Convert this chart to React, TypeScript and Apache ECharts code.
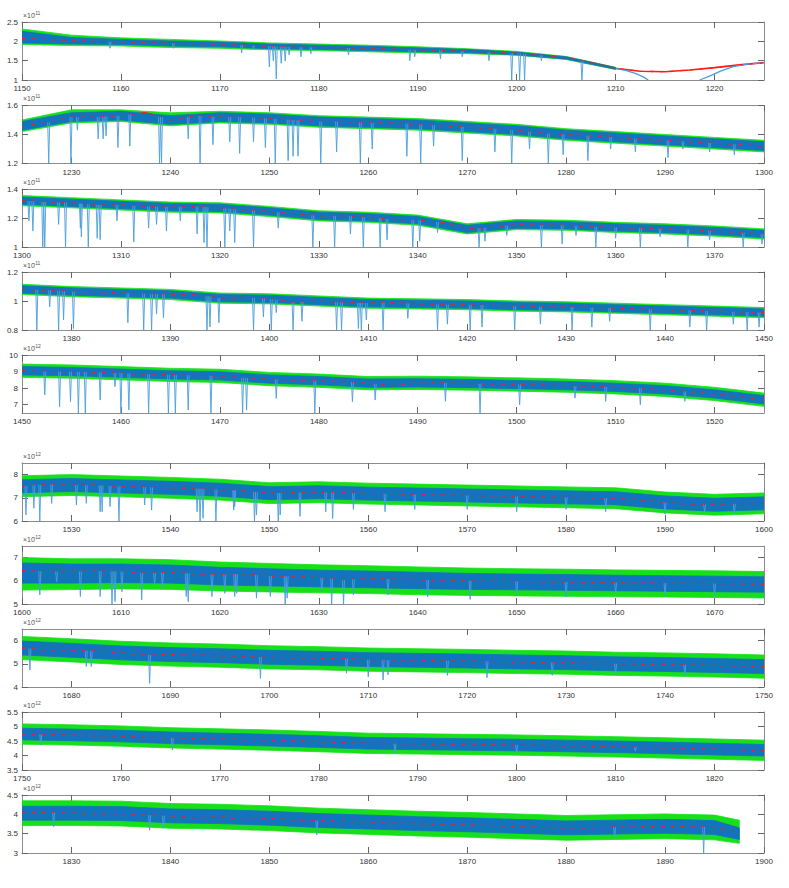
import React, { useEffect, useRef } from "react";
import * as echarts from "echarts";

// ---- panel ranges (wavelength, Å) and flux axes (display units: ×10^EXP) ----
const W_START = [1150, 1225, 1300, 1375, 1450, 1525, 1600, 1675, 1750, 1825];
const W_SPAN = 75;
const DATA_END = [1225, 1300, 1375, 1450, 1525, 1600, 1675, 1750, 1825, 1897.5];
const EXPONENT = ["-11", "-11", "-11", "-11", "-12", "-12", "-12", "-12", "-12", "-12"];
const Y_MIN = [1.0, 1.2, 1.0, 0.8, 6.5, 6, 5, 4, 3.5, 3];
const Y_MAX = [2.5, 1.6, 1.4, 1.2, 10, 8.5, 7.5, 6.5, 5.5, 4.5];
const Y_TICKS = [
  [1, 1.5, 2, 2.5], [1.2, 1.4, 1.6], [1, 1.2, 1.4], [0.8, 1, 1.2], [7, 8, 9, 10],
  [6, 7, 8], [5, 6, 7], [4, 5, 6], [3.5, 4, 4.5, 5, 5.5], [3, 3.5, 4, 4.5],
];
const X_TICKS = [
  [1150, 1160, 1170, 1180, 1190, 1200, 1210, 1220],
  [1230, 1240, 1250, 1260, 1270, 1280, 1290, 1300],
  [1300, 1310, 1320, 1330, 1340, 1350, 1360, 1370],
  [1380, 1390, 1400, 1410, 1420, 1430, 1440, 1450],
  [1450, 1460, 1470, 1480, 1490, 1500, 1510, 1520],
  [1530, 1540, 1550, 1560, 1570, 1580, 1590, 1600],
  [1600, 1610, 1620, 1630, 1640, 1650, 1660, 1670],
  [1680, 1690, 1700, 1710, 1720, 1730, 1740, 1750],
  [1750, 1760, 1770, 1780, 1790, 1800, 1810, 1820],
  [1830, 1840, 1850, 1860, 1870, 1880, 1890, 1900],
];

// ---- continuum fit (red), every 2.5 Å from panel start; hundredths of display unit ----
const CONT_1 = [208, 205, 202, 200, 199, 197, 195, 194, 192, 190, 187, 185, 185, 183, 182, 180, 178, 177, 175, 172, 169, 164, 157, 145, 130, 122.5, 121.5, 126, 132, 139, 145];
const CONT_2 = [146, 148, 152, 152, 153, 155, 150, 153, 152, 152, 151, 150, 149, 149, 148, 148, 147, 146, 145, 144, 143, 141, 140, 139, 138, 137, 136, 135, 134, 133, 132];
const CONT_3 = [132, 131, 130.5, 129, 129, 128, 127.5, 128, 127, 125.5, 124.5, 123, 121.5, 121.5, 120.5, 119, 118.5, 117, 112.5, 113.5, 115.5, 115, 115, 114, 113.5, 113, 112.5, 112, 111, 110, 109];
const CONT_4 = [108, 107.5, 106.5, 106.5, 105.5, 105, 104.5, 104.5, 102, 102.5, 101.5, 99, 100, 99, 98.5, 99, 98, 97.5, 97.5, 97, 96.5, 96, 96, 95.5, 95, 94.5, 94, 93.5, 93, 92.5, 92];
const CONT_5 = [905, 900, 900, 895, 890, 884, 880, 876, 874, 862, 855, 848, 845, 840, 830, 815, 832, 832, 828, 825, 822, 818, 815, 810, 805, 800, 790, 778, 765, 750, 730];
const CONT_6 = [750, 758, 755, 754, 749, 746, 743, 740, 735, 730, 720, 722, 724, 722, 718, 718, 714, 712, 710, 708, 706, 704, 702, 700, 698, 690, 680, 672, 670, 675, 676];
const CONT_7 = [645, 640, 640, 642, 640, 632, 636, 630, 626, 630, 620, 618, 614, 604, 610, 607, 605, 602, 600, 598, 597, 596, 595, 593, 592, 591, 590, 589, 588, 586, 585];
const CONT_8 = [568, 560, 558, 555, 547, 538, 540, 538, 535, 531, 528, 526, 524, 523, 518, 516, 515, 513, 512, 510, 508, 506, 505, 502, 500, 498, 497, 495, 493, 490, 488];
const CONT_9 = [474, 472, 471, 468, 467, 463, 461, 459, 457, 455, 453, 451, 448, 444, 442, 441, 440, 439, 438, 437, 436, 435, 433, 432, 430, 428, 426, 424, 422, 420, 418];
const CONT_10 = [403, 405, 403, 401, 402, 398, 396, 391, 394, 386, 390, 386, 384, 382, 380, 378, 376, 374, 373, 371, 369, 366, 365, 365, 367, 368, 369, 369, 366, 352, null];

// ---- flux envelopes every 5 Å: green (error-inflated) and blue (observed) ----
const GREEN_HI_1 = [232, 216, 209, 205, 201, 196, 193, 190, 186, 181, 174, 161, 133, null, null, null];
const GREEN_LO_1 = [192, 189, 188, 184, 182, 178, 176, 173, 170, 168, 164, 153, 127, null, null, null];
const BLUE_HI_1 = [226, 210, 205, 201, 198, 193, 190, 187, 183, 179, 172, 160, 132, null, null, null];
const BLUE_LO_1 = [196, 193, 192, 188, 186, 181, 179, 176, 173, 171, 165, 154, 128, null, null, null];

const GREEN_HI_2 = [150, 157, 157, 155, 156, 155, 153, 152, 151, 149, 147, 144, 142, 140, 138, 136];
const GREEN_LO_2 = [142, 148, 149, 146, 148, 147, 145, 144, 143, 141, 139, 136, 134, 132, 130, 128];
const BLUE_HI_2 = [149, 155, 156, 153, 155, 154, 152, 151, 150, 148, 146, 143, 141, 139, 137, 135];
const BLUE_LO_2 = [143, 149, 150, 147, 149, 148, 146, 145, 144, 142, 140, 137, 135, 133, 131, 129];

const GREEN_HI_3 = [135.5, 134, 132.5, 131, 130.5, 128, 125, 124, 122, 116, 119, 118.5, 117, 116, 114.5, 112.5];
const GREEN_LO_3 = [128.5, 127, 125.5, 124, 123.5, 121, 118, 117, 115, 109, 112, 111.5, 110, 109, 107.5, 105.5];
const BLUE_HI_3 = [134.5, 133, 131.5, 130, 129.5, 127, 124, 123, 121, 115, 118, 117.5, 116, 115, 113.5, 111.5];
const BLUE_LO_3 = [129.5, 128, 126.5, 125, 124.5, 122, 119, 118, 116, 110, 113, 112.5, 111, 110, 108.5, 106.5];

const GREEN_HI_4 = [111.5, 110, 109, 108, 105.5, 105, 103.5, 102, 101.5, 101, 100, 99.5, 98.5, 97.5, 96.5, 95.5];
const GREEN_LO_4 = [104.5, 103, 102, 101, 98.5, 98, 96.5, 95, 94.5, 94, 93, 92.5, 91.5, 90.5, 89.5, 88.5];
const BLUE_HI_4 = [110.5, 109, 108, 107, 104.5, 104, 102.5, 101, 100.5, 100, 99, 98.5, 97.5, 96.5, 95.5, 94.5];
const BLUE_LO_4 = [105.5, 104, 103, 102, 99.5, 99, 97.5, 96, 95.5, 95, 94, 93.5, 92.5, 91.5, 90.5, 89.5];

const GREEN_HI_5 = [945, 940, 930, 920, 914, 895, 885, 870, 872, 868, 862, 855, 845, 830, 805, 770];
const GREEN_LO_5 = [865, 860, 850, 840, 834, 815, 805, 790, 792, 788, 782, 775, 765, 750, 725, 690];
const BLUE_HI_5 = [930, 925, 915, 905, 899, 880, 870, 855, 857, 853, 847, 840, 830, 815, 790, 755];
const BLUE_LO_5 = [880, 875, 865, 855, 849, 830, 820, 805, 807, 803, 797, 790, 780, 765, 740, 705];

const GREEN_HI_6 = [795, 800, 794, 788, 780, 765, 769, 763, 759, 755, 751, 747, 743, 725, 715, 721];
const GREEN_LO_6 = [705, 710, 704, 698, 690, 675, 679, 673, 669, 665, 661, 657, 653, 635, 625, 631];
const BLUE_HI_6 = [778, 783, 777, 771, 763, 748, 752, 746, 742, 738, 734, 730, 726, 708, 698, 704];
const BLUE_LO_6 = [722, 727, 721, 715, 707, 692, 696, 690, 686, 682, 678, 674, 670, 652, 642, 648];

const GREEN_HI_7 = [700, 695, 695, 691, 681, 675, 669, 665, 660, 655, 652, 650, 647, 645, 643, 640];
const GREEN_LO_7 = [560, 562, 565, 563, 556, 552, 548, 545, 540, 537, 535, 533, 531, 530, 528, 526];
const BLUE_HI_7 = [677, 672, 672, 668, 658, 652, 646, 642, 637, 632, 629, 627, 624, 622, 620, 617];
const BLUE_LO_7 = [590, 590, 592, 590, 582, 578, 574, 570, 566, 563, 561, 559, 557, 555, 553, 551];

const GREEN_HI_8 = [618, 608, 597, 590, 585, 578, 574, 568, 565, 562, 558, 555, 550, 547, 543, 538];
const GREEN_LO_8 = [518, 508, 497, 490, 485, 478, 474, 468, 465, 462, 458, 455, 450, 447, 443, 438];
const BLUE_HI_8 = [598, 588, 577, 570, 565, 558, 554, 548, 545, 542, 538, 535, 530, 527, 523, 518];
const BLUE_LO_8 = [538, 528, 517, 510, 505, 498, 494, 488, 485, 482, 478, 475, 470, 467, 463, 458];

const GREEN_HI_9 = [509, 506, 502, 496, 492, 488, 483, 477, 475, 473, 471, 468, 465, 461, 457, 453];
const GREEN_LO_9 = [439, 436, 432, 426, 422, 418, 413, 407, 405, 403, 401, 398, 395, 391, 387, 383];
const BLUE_HI_9 = [494, 491, 487, 481, 477, 473, 468, 462, 460, 458, 456, 453, 450, 446, 442, 438];
const BLUE_LO_9 = [454, 451, 447, 441, 437, 433, 428, 422, 420, 418, 416, 413, 410, 406, 402, 398];

const GREEN_HI_10 = [435, 435, 434, 428, 426, 422, 416, 412, 408, 405, 401, 397, 399, 401, 398, 385];
const GREEN_LO_10 = [371, 371, 370, 364, 362, 358, 352, 348, 344, 341, 337, 333, 335, 337, 334, 325];
const BLUE_HI_10 = [421, 421, 420, 414, 412, 408, 402, 398, 394, 391, 387, 383, 385, 387, 384, 365];
const BLUE_LO_10 = [385, 385, 384, 378, 376, 372, 366, 362, 358, 355, 351, 347, 349, 351, 348, 335];

// ---- absorption lines in the observed spectrum: [wavelength, minimum flux] ----
const DIPS_1 = [[1158.9, 182], [1165.3, 182], [1172.2, 170], [1173.4, 180], [1175.0, 134], [1175.4, 150], [1175.7, 103], [1176.2, 143], [1176.6, 149], [1177.0, 165], [1178.2, 160], [1179.2, 168], [1183.0, 165], [1189.2, 150], [1189.7, 160], [1192.3, 155], [1194.5, 160], [1197.2, 150], [1199.5, 100], [1200.3, 100], [1200.8, 100], [1202.5, 150], [1206.6, 100]];
const DIPS_2 = [[1227.7, 120], [1229.95, 120], [1230.6, 143], [1232.7, 137], [1233.2, 137], [1233.5, 139], [1234.7, 131], [1235.9, 132], [1238.9, 120], [1239.1, 120], [1241.8, 137], [1243.0, 120], [1244.3, 133], [1246.0, 135], [1247.0, 127], [1248.4, 135], [1249.6, 131], [1250.6, 120], [1251.9, 122], [1252.4, 125], [1252.9, 125], [1255.2, 120], [1256.8, 128], [1259.2, 120], [1260.4, 130], [1263.9, 125], [1265.3, 120], [1266.6, 132], [1269.5, 122], [1272.8, 128], [1274.5, 120], [1276.3, 130], [1278.2, 120], [1279.7, 126], [1282.2, 122], [1284.5, 130], [1287, 128], [1290.3, 124], [1291.8, 130], [1294.5, 128], [1297, 126]];
const DIPS_3 = [[1300.7, 118], [1301.1, 111], [1302.1, 100], [1302.3, 100], [1303.7, 115.6], [1304.4, 100], [1305.9, 113], [1306, 107], [1306.7, 100], [1307.6, 106], [1307.9, 105], [1309.6, 118], [1311.3, 103.5], [1312.8, 113], [1313.6, 115.6], [1314.6, 111], [1316.0, 118], [1317.7, 109], [1318.4, 103], [1318.7, 100], [1320.5, 100], [1321.0, 111], [1321.5, 103], [1323.4, 100], [1325.9, 113], [1329.4, 100], [1331.6, 100], [1333.2, 109], [1334.5, 100], [1336.2, 100], [1336.9, 105], [1339.5, 100], [1340.2, 104], [1342, 110], [1346.2, 100], [1346.8, 104], [1349, 108], [1352.5, 100], [1354.6, 102], [1356, 108], [1358.0, 100], [1360, 106], [1362.5, 100], [1364.5, 107], [1367.3, 100], [1369.5, 105], [1372.9, 100], [1374.8, 102]];
const DIPS_4 = [[1376.5, 80], [1377.8, 96], [1378.7, 80], [1379.2, 87], [1380.2, 81], [1385.7, 85], [1387.3, 80], [1388.1, 80], [1388.6, 91], [1389.3, 88.5], [1393.7, 80], [1394, 82], [1394.9, 85], [1398.4, 80], [1399.4, 89], [1400.2, 80], [1400.7, 92], [1402.4, 80], [1403.3, 86], [1406.8, 80], [1407.3, 80], [1409.0, 81], [1409.3, 80], [1409.8, 87], [1411.5, 80], [1414, 88], [1417, 80], [1418, 84], [1420.3, 80], [1421.5, 82], [1424.8, 80], [1427.4, 84], [1430.6, 80], [1432.6, 82], [1434.4, 86], [1438.5, 80], [1442.5, 82], [1444.2, 80], [1446.9, 84], [1448.3, 80], [1449.5, 82]];
const DIPS_5 = [[1452.3, 759], [1453.8, 688], [1454.9, 718], [1455.7, 650], [1456.4, 650], [1457.9, 728], [1459.4, 809], [1460.0, 650], [1460.8, 668], [1462.8, 650], [1464.8, 650], [1465.5, 650], [1466.8, 668], [1469.1, 650], [1472.3, 650], [1472.7, 668], [1475.7, 738], [1479.6, 650], [1483.4, 718], [1485.7, 728], [1492.8, 720], [1496.3, 650], [1500.3, 700], [1505.9, 740], [1509, 720], [1512.5, 700], [1517, 720]];
const DIPS_6 = [[1525.4, 626], [1526.2, 655], [1526.8, 600], [1528.0, 676], [1530.5, 669], [1531.5, 676], [1532.9, 640], [1533.1, 640], [1533.9, 662], [1534.8, 600], [1537.4, 669], [1538.1, 647], [1542.7, 640], [1543.0, 600], [1543.3, 612], [1544.6, 600], [1546.4, 647], [1546.5, 662], [1548.5, 600], [1548.7, 626], [1550.9, 600], [1551.1, 626], [1553.1, 620], [1555.7, 640], [1556.4, 610], [1558.5, 650], [1561.7, 640], [1564.7, 650], [1570, 650], [1575, 640], [1580, 650], [1584, 640], [1590, 630], [1594, 640], [1597, 630]];
const DIPS_7 = [[1601.8, 539], [1603.5, 596], [1605.9, 532], [1607.9, 532], [1609.1, 500], [1609.4, 510], [1610.1, 553], [1612.1, 518], [1613.4, 589], [1614.2, 568], [1616.6, 532], [1616.8, 510], [1619.2, 532], [1620.5, 546], [1621.5, 532], [1621.7, 546], [1623.7, 525], [1625.1, 532], [1626.6, 500], [1626.8, 525], [1630.3, 553], [1631.3, 500], [1632.5, 500], [1633.5, 539], [1637, 540], [1641, 530], [1645.3, 520], [1650, 540], [1655, 530], [1660, 545], [1665, 540], [1670, 535]];
const DIPS_8 = [[1675.8, 473], [1681.5, 488], [1682.0, 488], [1687.9, 416], [1699.1, 437], [1707.8, 459], [1710.0, 444], [1711.5, 430], [1712.0, 452], [1718, 450], [1722, 440], [1728.6, 450], [1735, 455], [1742, 450]];
const DIPS_9 = [[1751.9, 436], [1765.2, 419], [1787.7, 408], [1800, 410], [1812, 415]];
const DIPS_10 = [[1828.2, 368], [1837.9, 359], [1839.3, 364], [1854.8, 347], [1884.9, 340], [1893.9, 300]];

// ---- Lyman-alpha damping wings of the observed spectrum (panel 1) ----
const WING_BLUE_1 = [[1210, 130], [1211, 125], [1212, 117], [1212.8, 108], [1213.3, 100]];
const WING_RED_1 = [[1218.5, 100], [1219.5, 110], [1220.6, 123], [1221.9, 134.5], [1223.3, 141], [1225, 145]];

const CONT = [CONT_1, CONT_2, CONT_3, CONT_4, CONT_5, CONT_6, CONT_7, CONT_8, CONT_9, CONT_10];
const GREEN_HI = [GREEN_HI_1, GREEN_HI_2, GREEN_HI_3, GREEN_HI_4, GREEN_HI_5, GREEN_HI_6, GREEN_HI_7, GREEN_HI_8, GREEN_HI_9, GREEN_HI_10];
const GREEN_LO = [GREEN_LO_1, GREEN_LO_2, GREEN_LO_3, GREEN_LO_4, GREEN_LO_5, GREEN_LO_6, GREEN_LO_7, GREEN_LO_8, GREEN_LO_9, GREEN_LO_10];
const BLUE_HI = [BLUE_HI_1, BLUE_HI_2, BLUE_HI_3, BLUE_HI_4, BLUE_HI_5, BLUE_HI_6, BLUE_HI_7, BLUE_HI_8, BLUE_HI_9, BLUE_HI_10];
const BLUE_LO = [BLUE_LO_1, BLUE_LO_2, BLUE_LO_3, BLUE_LO_4, BLUE_LO_5, BLUE_LO_6, BLUE_LO_7, BLUE_LO_8, BLUE_LO_9, BLUE_LO_10];
const DIPS = [DIPS_1, DIPS_2, DIPS_3, DIPS_4, DIPS_5, DIPS_6, DIPS_7, DIPS_8, DIPS_9, DIPS_10];

// ---- layout & style ----
const GRID_TOP = [22, 105.5, 189, 272, 355, 463, 546, 629, 712, 795];
const GRID_LEFT = 22;
const GRID_W = 742;
const GRID_H = 58;
const FONT = "'Liberation Sans', Arial, Helvetica, sans-serif";
const GREEN = "#17e01a";
const BLUE = "#1374bd";
const DIP_BLUE = "#4a9edb";
const RED = "#ff1a1a";
const AXIS_GRAY = "#8c8c8c";
const TEXT = "#333333";

const contKnotX = (p: number, i: number) => Math.min(W_START[p] + 2.5 * i, DATA_END[p]);
const bandKnotX = (p: number, i: number) => Math.min(W_START[p] + 5 * i, DATA_END[p]);

function continuumAt(p: number, w: number): number {
  const arr = CONT[p];
  let best = arr[0] as number;
  for (let i = 0; i < arr.length - 1; i++) {
    const a = arr[i], b = arr[i + 1];
    const x0 = contKnotX(p, i), x1 = contKnotX(p, i + 1);
    if (a == null) continue;
    if (w >= x0 && w <= x1) {
      if (b == null || x1 === x0) return a / 100;
      return (a + ((b - a) * (w - x0)) / (x1 - x0)) / 100;
    }
    best = a;
  }
  return best / 100;
}

function buildOption() {
  const grid: any[] = [];
  const xAxis: any[] = [];
  const yAxis: any[] = [];
  const series: any[] = [];
  const graphic: any[] = [];

  for (let p = 0; p < 10; p++) {
    grid.push({ left: GRID_LEFT, top: GRID_TOP[p], width: GRID_W, height: GRID_H, containLabel: false });
    const baseX = {
      type: "value", gridIndex: p, min: W_START[p], max: W_START[p] + W_SPAN,
      splitLine: { show: false },
      axisLine: { show: true, onZero: false, lineStyle: { color: AXIS_GRAY, width: 1 } },
      axisTick: { show: true, inside: true, length: 6, customValues: X_TICKS[p], lineStyle: { color: "#666", width: 1 } },
    };
    xAxis.push({ ...baseX, position: "bottom",
      axisLabel: { show: true, customValues: X_TICKS[p], fontSize: 8, lineHeight: 8, color: TEXT, margin: 4.5,
        fontFamily: FONT, formatter: (v: number) => String(v) } });
    xAxis.push({ ...baseX, position: "top", axisLabel: { show: false } });
    const baseY = {
      type: "value", gridIndex: p, min: Y_MIN[p], max: Y_MAX[p],
      splitLine: { show: false },
      axisLine: { show: true, onZero: false, lineStyle: { color: AXIS_GRAY, width: 1 } },
      axisTick: { show: true, inside: true, length: 6, customValues: Y_TICKS[p], lineStyle: { color: "#666", width: 1 } },
    };
    yAxis.push({ ...baseY, position: "left",
      axisLabel: { show: true, customValues: Y_TICKS[p], fontSize: 8, lineHeight: 8, color: TEXT, margin: 4,
        fontFamily: FONT, formatter: (v: number) => String(Math.round(v * 100) / 100) } });
    yAxis.push({ ...baseY, position: "right", axisLabel: { show: false } });

    const xi = 2 * p, yi = 2 * p;
    const band = (hi: (number | null)[], lo: (number | null)[], color: string, z: number) => {
      const knots: number[][] = [];
      for (let i = 0; i < hi.length; i++) {
        const h = hi[i], l = lo[i];
        if (h == null || l == null) continue;
        knots.push([bandKnotX(p, i), l / 100, h / 100]);
      }
      series.push({
        type: "custom", xAxisIndex: xi, yAxisIndex: yi, silent: true, z, clip: true,
        data: knots,
        renderItem: (params: any, api: any) => {
          if (params.dataIndex !== 0) return null;
          const upper = knots.map((k) => api.coord([k[0], k[2]]));
          const lower = knots.map((k) => api.coord([k[0], k[1]])).reverse();
          return {
            type: "polygon",
            shape: { points: upper.concat(lower) },
            style: { fill: color, stroke: color, lineWidth: 0.8 },
          };
        },
      });
    };
    band(GREEN_HI[p], GREEN_LO[p], GREEN, 1);

    const contData: any[] = [];
    CONT[p].forEach((v, i) => { if (v != null) contData.push([contKnotX(p, i), v / 100]); });
    // continuous fit underneath, and the part that shows through the noisy spectrum on top
    series.push({ type: "line", xAxisIndex: xi, yAxisIndex: yi, data: contData, symbol: "none", silent: true,
      lineStyle: { color: RED, width: 1.6 }, z: 2 });

    band(BLUE_HI[p], BLUE_LO[p], BLUE, 3);

    series.push({ type: "line", xAxisIndex: xi, yAxisIndex: yi, data: contData, symbol: "none", silent: true,
      lineStyle: { color: RED, width: 1.3, type: [3, 7], opacity: 0.9 }, z: 3.5 });

    if (p === 0) {
      [WING_BLUE_1, WING_RED_1].forEach((seg) => {
        series.push({ type: "line", xAxisIndex: xi, yAxisIndex: yi, data: seg.map((d) => [d[0], d[1] / 100]),
          symbol: "none", silent: true, lineStyle: { color: DIP_BLUE, width: 1.3 }, z: 3 });
      });
    }

    const pIdx = p;
    series.push({
      type: "custom", xAxisIndex: xi, yAxisIndex: yi, silent: true, z: 4, clip: true,
      data: DIPS[p].map((d) => [d[0], d[1] / 100]),
      renderItem: (params: any, api: any) => {
        const w = api.value(0);
        const b = api.value(1);
        const top = continuumAt(pIdx, w);
        const pb = api.coord([w, b]);
        const pt = api.coord([w, top]);
        return {
          type: "polyline",
          shape: { points: [[pb[0] - 1, pt[1]], [pb[0], pb[1]], [pb[0] + 1, pt[1]]] },
          style: { stroke: DIP_BLUE, lineWidth: 1, fill: null, opacity: 0.9 },
        };
      },
    });

    graphic.push({ type: "text", left: 23, top: GRID_TOP[p] - 10.5,
      style: { text: "×10", fontSize: 7, fill: "#555", fontFamily: FONT } });
    graphic.push({ type: "text", left: 33.5, top: GRID_TOP[p] - 12,
      style: { text: EXPONENT[p], fontSize: 5, fill: "#555", fontFamily: FONT } });
  }

  return { animation: false, backgroundColor: "#ffffff", grid, xAxis, yAxis, series, graphic };
}

export default function App() {
  const ref = useRef<HTMLDivElement>(null);
  useEffect(() => {
    const el = ref.current;
    if (!el) return;
    const chart = echarts.init(el, undefined, { renderer: "svg" });
    chart.setOption(buildOption());
    return () => chart.dispose();
  }, []);
  return (
    <div
      ref={ref}
      style={{ position: "absolute", left: 0, top: 0, width: 789, height: 888, background: "#fff" }}
    />
  );
}
